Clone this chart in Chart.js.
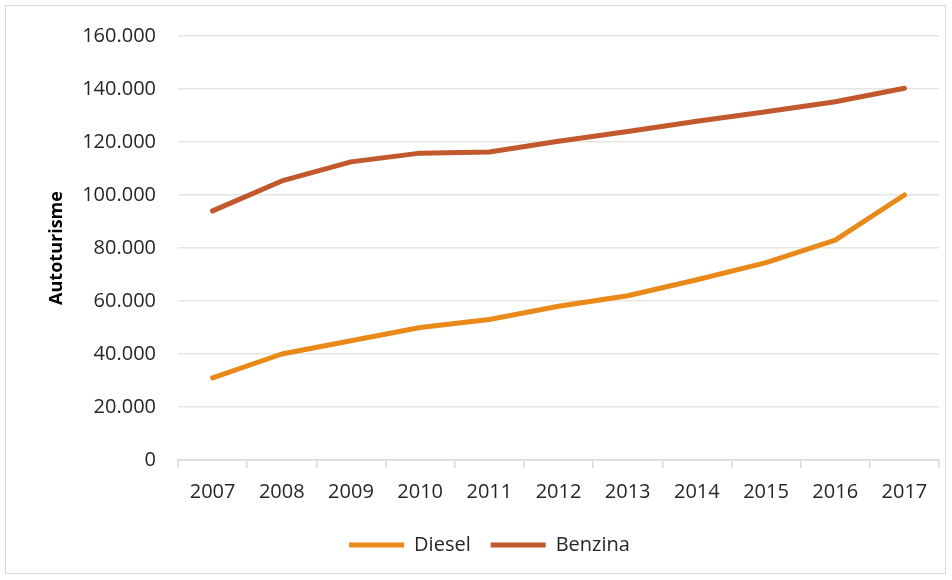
<!DOCTYPE html>
<html>
<head>
<meta charset="utf-8">
<script src="https://cdn.jsdelivr.net/npm/chart.js@4.4.1/dist/chart.umd.min.js"></script>
<style>
    body { margin: 0; background: #fff; }
    #wrap {
        position: absolute; left: 5px; top: 5px;
        width: 939px; height: 567px;
        border: 1px solid #D9D9D9;
    }
</style>
</head>
<body>
<div id="wrap"><canvas id="lineChart"></canvas></div>
<script>
// Data
var years = ['2007', '2008', '2009', '2010', '2011', '2012', '2013', '2014', '2015', '2016', '2017'];
var diesel = [31000, 40000, 45000, 50000, 53000, 58000, 62000, 68000, 74500, 83000, 100000];
var benzina = [94000, 105300, 112500, 115800, 116200, 120300, 124000, 127800, 131400, 135200, 140300];
var yTicks = [0, 20000, 40000, 60000, 80000, 100000, 120000, 140000, 160000];

var textColor = '#262626';
var fontName = "'Open Sans', 'Liberation Sans', sans-serif";

// 20000 -> "20.000"
function formatNumber(v) {
    return String(v).replace(/\B(?=(\d{3})+(?!\d))/g, '.');
}

// Legend in the reference sits a bit right of the canvas centre
var legendShift = {
    id: 'legendShift',
    afterLayout: function (chart) {
        chart.legend.left += 17;
        chart.legend.right += 17;
    }
};

document.addEventListener('DOMContentLoaded', function () {
    var ctx = document.getElementById('lineChart').getContext('2d');
    new Chart(ctx, {
        type: 'line',
        data: {
            labels: years,
            datasets: [{
                label: 'Diesel',
                data: diesel,
                borderColor: '#E8891A',
                backgroundColor: '#E8891A',
                borderWidth: 5,
                borderCapStyle: 'round',
                borderJoinStyle: 'round',
                pointRadius: 0,
                tension: 0
            }, {
                label: 'Benzina',
                data: benzina,
                borderColor: '#C2592C',
                backgroundColor: '#C2592C',
                borderWidth: 5,
                borderCapStyle: 'round',
                borderJoinStyle: 'round',
                pointRadius: 0,
                tension: 0
            }]
        },
        plugins: [legendShift],
        options: {
            responsive: true,
            maintainAspectRatio: false,
            animation: false,
            layout: {
                padding: { top: 30, right: 6, left: 0, bottom: 8 }
            },
            plugins: {
                tooltip: { enabled: false },
                legend: {
                    position: 'bottom',
                    labels: {
                        usePointStyle: true,
                        pointStyle: 'line',
                        pointStyleWidth: 55,
                        color: textColor,
                        padding: 20,
                        font: { family: fontName, size: 20 }
                    }
                }
            },
            scales: {
                x: {
                    offset: true,
                    border: { display: true, color: '#D9D9D9', width: 1.5 },
                    grid: {
                        offset: true,
                        drawOnChartArea: false,
                        drawTicks: true,
                        tickLength: 8,
                        color: '#D9D9D9',
                        lineWidth: 1.5
                    },
                    ticks: {
                        color: textColor,
                        padding: 12,
                        maxRotation: 0,
                        font: { family: fontName, size: 20 }
                    },
                    afterFit: function (scale) { scale.height = 55; }
                },
                y: {
                    min: 0,
                    max: 160000,
                    afterBuildTicks: function (scale) {
                        scale.ticks = yTicks.map(function (v) { return { value: v }; });
                    },
                    border: { display: false },
                    grid: {
                        drawTicks: true,
                        tickLength: 8,
                        tickColor: 'rgba(0,0,0,0)',
                        color: '#E6E6E0',
                        lineWidth: 1.5
                    },
                    ticks: {
                        color: textColor,
                        padding: 14,
                        font: { family: fontName, size: 20 },
                        callback: function (v) { return formatNumber(v); }
                    },
                    title: {
                        display: true,
                        text: 'Autoturisme',
                        color: '#000000',
                        padding: { top: 40, bottom: 0 },
                        font: { family: fontName, size: 18, weight: 'bold' }
                    },
                    afterFit: function (scale) { scale.width = 172; }
                }
            }
        }
    });
});
</script>
</body>
</html>
